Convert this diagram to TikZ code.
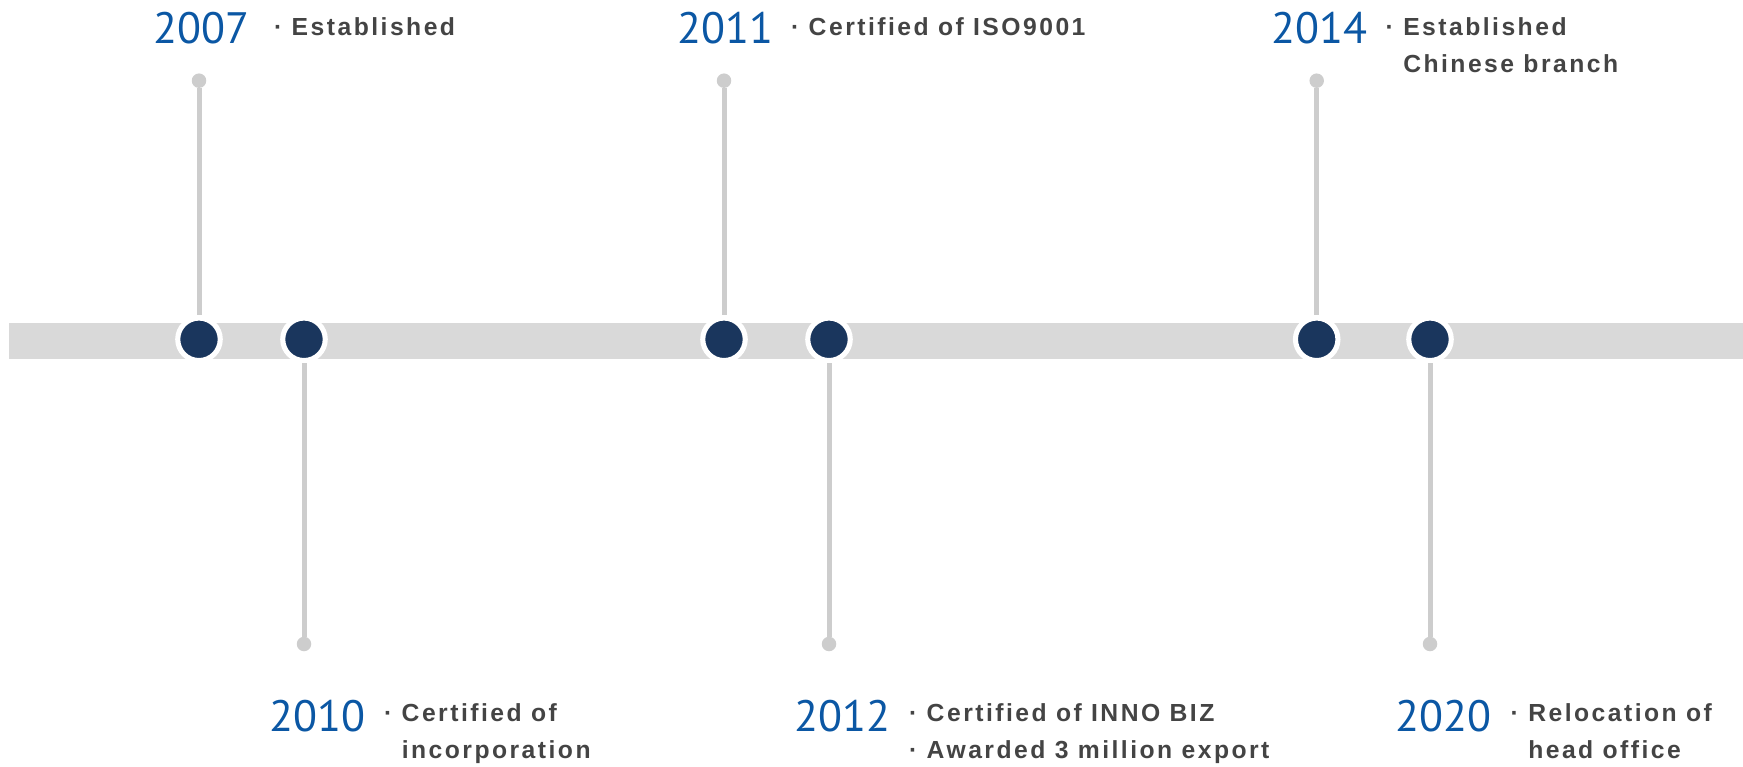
\documentclass[tikz,border=0pt]{standalone}
\usepackage{fontspec}
\setmainfont{Liberation Sans}
\newfontfamily\yearfont{PT Sans}
\newfontfamily\descfont[LetterSpace=10]{Liberation Sans}
\usepackage{tikz}
\definecolor{yearblue}{HTML}{0B57A4}
\definecolor{desctext}{HTML}{444444}
\definecolor{navydot}{HTML}{1A365D}
\definecolor{bargray}{HTML}{D9D9D9}
\definecolor{stemgray}{HTML}{CDCDCD}
\tikzset{
  year/.style={anchor=base west,inner sep=0pt,text=yearblue,font=\yearfont\fontsize{44}{44}\selectfont},
  desc/.style={anchor=base west,inner sep=0pt,align=left,text=desctext,font=\descfont\bfseries\fontsize{24.7}{36.7}\selectfont},
  evdot/.style={circle,fill=navydot,draw=white,line width=5.1pt,minimum size=42.5pt,inner sep=0pt},
  tipdot/.style={circle,fill=stemgray,minimum size=14.5pt,inner sep=0pt},
  stem/.style={draw=stemgray,line width=5pt}
}
\begin{document}
\begin{tikzpicture}[x=1pt,y=-1pt]
\useasboundingbox (0,0) rectangle (1743,767);
\fill[bargray] (9,322.7) rectangle (1743,359);
\node[evdot] (d2007) at (199,339.3) {};
\node[evdot] (d2010) at (304,339.3) {};
\node[evdot] (d2011) at (724,339.3) {};
\node[evdot] (d2012) at (829,339.3) {};
\node[evdot] (d2014) at (1316.7,339.3) {};
\node[evdot] (d2020) at (1430,339.3) {};
\node[tipdot] (t2007) at (199,80.7) {};
\node[tipdot] (t2010) at (304,644) {};
\node[tipdot] (t2011) at (724,80.7) {};
\node[tipdot] (t2012) at (829,644) {};
\node[tipdot] (t2014) at (1316.7,80.7) {};
\node[tipdot] (t2020) at (1430,644) {};
\draw[stem] (t2007) -- (d2007);
\draw[stem] (t2010) -- (d2010);
\draw[stem] (t2011) -- (d2011);
\draw[stem] (t2012) -- (d2012);
\draw[stem] (t2014) -- (d2014);
\draw[stem] (t2020) -- (d2020);
\node[year] (y2007) at (153,43.3) {2007};
\node[year] (y2011) at (677,43.3) {2011};
\node[year] (y2014) at (1271,43.3) {2014};
\node[year] (y2010) at (269,731) {2010};
\node[year] (y2012) at (794,731) {2012};
\node[year] (y2020) at (1395,731) {2020};
% base anchor sits on the last line
\node[desc] (e2007) at (274,36) {· Established};
\node[desc] (e2011) at (791,36) {· Certified of ISO9001};
\node[desc] (e2014) at (1385.5,72.7) {· Established\\\phantom{· }Chinese branch};
\node[desc] (e2010) at (384,758.4) {· Certified of\\\phantom{· }incorporation};
\node[desc] (e2012) at (909,758.4) {· Certified of INNO BIZ\\· Awarded 3 million export};
\node[desc] (e2020) at (1510.5,758.4) {· Relocation of\\\phantom{· }head office};
\end{tikzpicture}
\end{document}
